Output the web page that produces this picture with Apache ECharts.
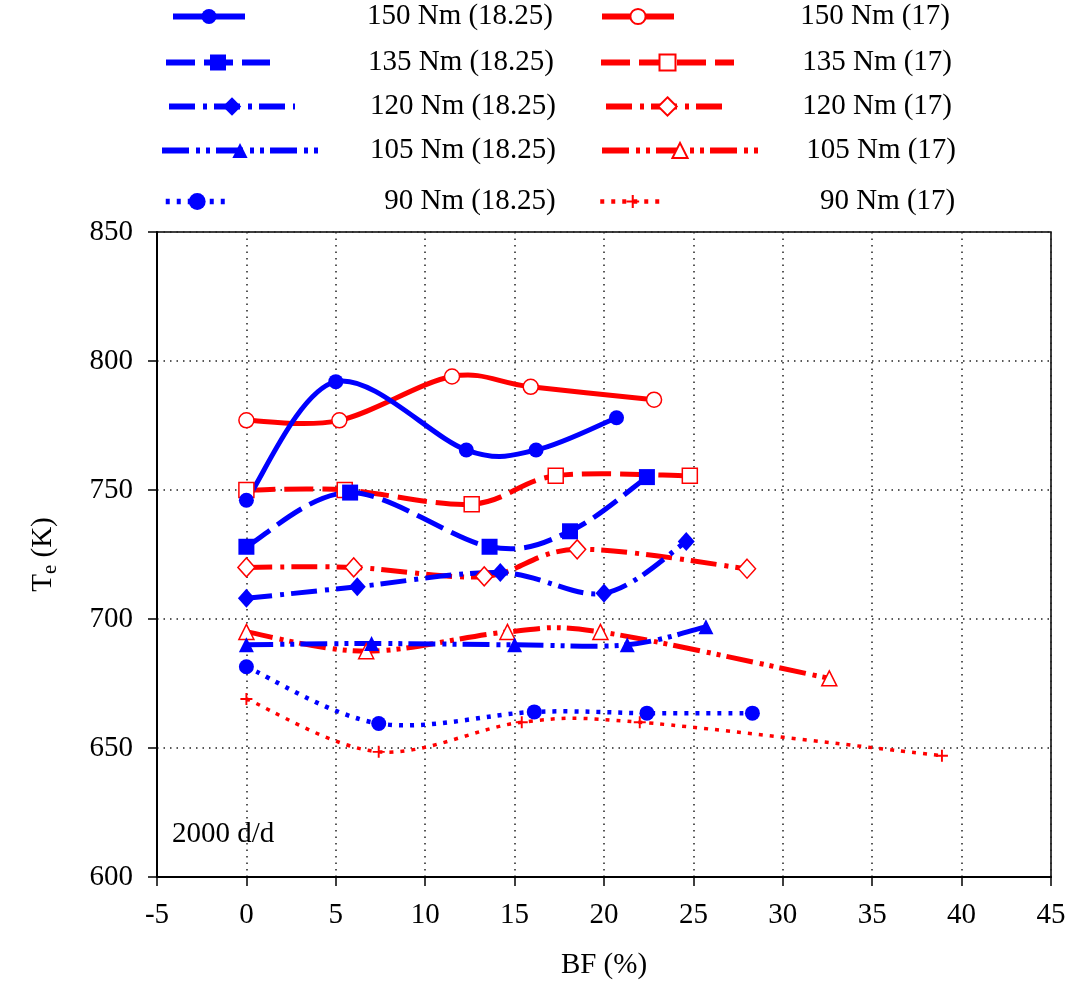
<!DOCTYPE html>
<html>
<head>
<meta charset="utf-8">
<script src="https://cdn.jsdelivr.net/npm/echarts@6/dist/echarts.min.js"></script>
<style>
html,body{margin:0;padding:0;background:#fff;}
#chart{width:1073px;height:990px;}
</style>
</head>
<body>
<div id="chart"></div>
<script>
// ---- data ----
const seriesNames = ['150 Nm (18.25)','135 Nm (18.25)','120 Nm (18.25)','105 Nm (18.25)','90 Nm (18.25)',
                     '150 Nm (17)','135 Nm (17)','120 Nm (17)','105 Nm (17)','90 Nm (17)'];
const bf150_1825 = [0, 5.0, 12.3, 16.2, 20.7];
const te150_1825 = [746, 792, 765.5, 765.5, 778];
const bf135_1825 = [0, 5.8, 13.6, 18.1, 22.4];
const te135_1825 = [728, 749, 728, 734, 755];
const bf120_1825 = [0, 6.2, 14.2, 20.0, 24.6];
const te120_1825 = [708, 712.5, 718, 710, 730];
const bf105_1825 = [0, 7.0, 15.0, 21.3, 25.7];
const te105_1825 = [690, 690.5, 690, 690, 697];
const bf90_1825  = [0, 7.4, 16.1, 22.4, 28.3];
const te90_1825  = [681.5, 659.5, 664, 663.5, 663.5];
const bf150_17 = [0, 5.2, 11.5, 15.9, 22.8];
const te150_17 = [777, 777, 794, 790, 785];
const bf135_17 = [0, 5.5, 12.6, 17.3, 24.8];
const te135_17 = [750, 750, 744.5, 755.5, 755.5];
const bf120_17 = [0, 6.0, 13.3, 18.5, 28.0];
const te120_17 = [720, 720, 716.5, 727, 719.5];
const bf105_17 = [0, 6.7, 14.6, 19.8, 32.6];
const te105_17 = [695, 687.5, 695, 695, 677];
const bf90_17  = [0, 7.4, 15.4, 22.0, 38.9];
const te90_17  = [669, 648.5, 660, 660, 647];
const annotation = '2000 d/d';

// ---- styling ----
const FONT = 'Liberation Serif';
const FS = 29;
const BLUE = '#0000ff', RED = '#ff0000';
const PLUS = 'path://M4.2,0h1.6v4.2h4.2v1.6h-4.2v4.2h-1.6v-4.2h-4.2v-1.6h4.2z';
const DASH135 = [29, 9], DASH120 = [26, 8, 4, 7], DASH105 = [27, 7, 4, 6, 4, 6], DOT = [4, 7];

function pairs(xs, ys){ return xs.map((x,i)=>[x, ys[i]]); }

// smooth curve (Catmull-Rom -> Bezier) through the library's own coordinate mapping
function curveSeries(name, data, color, dash, width){
  return {
    name: name + ' curve', type: 'custom', z: 2, silent: true,
    data: data, encode: {x: 0, y: 1},
    renderItem: function(params, api){
      if (params.dataIndex !== 0) return null;
      const p = data.map(d => api.coord(d));
      const n = p.length;
      let path = 'M' + p[0][0] + ',' + p[0][1];
      for (let i = 0; i < n - 1; i++) {
        const p0 = p[i - 1] || p[i], p1 = p[i], p2 = p[i + 1], p3 = p[i + 2] || p[i + 1];
        const c1x = p1[0] + (p2[0] - p0[0]) / 6, c1y = p1[1] + (p2[1] - p0[1]) / 6;
        const c2x = p2[0] - (p3[0] - p1[0]) / 6, c2y = p2[1] - (p3[1] - p1[1]) / 6;
        path += 'C' + c1x + ',' + c1y + ',' + c2x + ',' + c2y + ',' + p2[0] + ',' + p2[1];
      }
      return {
        type: 'path', shape: {pathData: path},
        style: {fill: 'none', stroke: color, lineWidth: width,
                lineDash: dash === 'solid' ? null : dash}
      };
    }
  };
}

const specs = [
  // name, xs, ys, color, dash, width, symbol, size, open
  [seriesNames[5], bf150_17, te150_17, RED, 'solid', 5, 'circle', 15, true],
  [seriesNames[6], bf135_17, te135_17, RED, DASH135, 5, 'rect', 15, true],
  [seriesNames[7], bf120_17, te120_17, RED, DASH120, 5, 'diamond', [17,19], true],
  [seriesNames[8], bf105_17, te105_17, RED, DASH105, 5, 'triangle', [15,15], true],
  [seriesNames[9], bf90_17, te90_17, RED, [4,7], 3.5, PLUS, 12, false],
  [seriesNames[0], bf150_1825, te150_1825, BLUE, 'solid', 5, 'circle', 15, false],
  [seriesNames[1], bf135_1825, te135_1825, BLUE, DASH135, 5, 'rect', 16, false],
  [seriesNames[2], bf120_1825, te120_1825, BLUE, DASH120, 5, 'diamond', [17,19], false],
  [seriesNames[3], bf105_1825, te105_1825, BLUE, DASH105, 5, 'triangle', [15,15], false],
  [seriesNames[4], bf90_1825, te90_1825, BLUE, DOT, 4.5, 'circle', 15, false]
];

const series = [];
const styleByName = {};
specs.forEach(([name, xs, ys, color, dash, width, symbol, size, open]) => {
  const data = pairs(xs, ys);
  styleByName[name] = {color: color, dash: dash, width: width};
  series.push(curveSeries(name, data, color, dash, width));
  series.push({
    name: name, type: 'line', z: 3,
    data: data,
    symbol: symbol, symbolSize: size, showSymbol: true,
    lineStyle: {color: color, width: 0, opacity: 0, type: dash},
    itemStyle: open ? {color: '#ffffff', borderColor: color, borderWidth: 1.5}
                    : {color: color, borderColor: color, borderWidth: 0},
    emphasis: {disabled: true}
  });
});

// legend layout: one legend per entry [name, left, centerY, iconWidth, iconHeight, textRight]
const legendLayout = [
  [seriesNames[0], 170, 18, 72, 19, 550],
  [seriesNames[1], 163, 64, 104, 20, 551],
  [seriesNames[2], 166, 108, 126, 23, 553],
  [seriesNames[3], 159, 152, 156, 19, 553],
  [seriesNames[4], 163, 203, 63, 21, 553],
  [seriesNames[5], 599, 18, 72, 19, 947],
  [seriesNames[6], 598, 64, 133, 20, 949],
  [seriesNames[7], 603, 108, 123, 23, 949],
  [seriesNames[8], 599, 152, 156, 19, 953],
  [seriesNames[9], 598, 203, 65, 16, 953]
];
const legends = legendLayout.map(([nm, left, cy, w, h, right]) => {
  const st = styleByName[nm];
  return {
    data: [nm], left: left, top: cy - 16, padding: 0,
    itemWidth: w, itemHeight: h, itemGap: 0,
    selectedMode: false,
    lineStyle: {color: st.color, width: st.width + 1, type: st.dash, opacity: 1},
    formatter: '{t|{name}}',
    textStyle: {rich: {t: {width: right - (left + w + 5), align: 'right',
      fontFamily: FONT, fontSize: FS, lineHeight: 32, color: '#000'}}}
  };
});

const gridLine = {show: true, lineStyle: {color: '#222', width: 1.5, type: [1.5, 5]}};

const option = {
  animation: false,
  backgroundColor: '#ffffff',
  legend: legends,
  grid: {left: 157, right: 22, top: 232, bottom: 113, show: true,
         borderColor: '#000', borderWidth: 1.5, backgroundColor: 'transparent'},
  xAxis: {
    type: 'value', min: -5, max: 45, interval: 5,
    name: 'BF (%)', nameLocation: 'middle', nameGap: 74,
    nameTextStyle: {fontFamily: FONT, fontSize: FS, color: '#000'},
    axisLine: {onZero: false, lineStyle: {color: '#000', width: 2}},
    axisTick: {show: true, inside: false, length: 9, lineStyle: {color: '#000', width: 1.5}},
    axisLabel: {fontFamily: FONT, fontSize: FS, color: '#000', margin: 24},
    splitLine: gridLine
  },
  yAxis: {
    type: 'value', min: 600, max: 850, interval: 50,
    name: 'T{sub|e} (K)', nameLocation: 'middle', nameGap: 96, nameRotate: 90,
    nameTextStyle: {fontFamily: FONT, fontSize: FS, color: '#000',
      rich: {sub: {fontFamily: FONT, fontSize: 21, color: '#000', padding: [14,0,0,0]}}},
    axisLine: {onZero: false, lineStyle: {color: '#000', width: 2}},
    axisTick: {show: true, inside: false, length: 9, lineStyle: {color: '#000', width: 1.5}},
    axisLabel: {fontFamily: FONT, fontSize: FS, color: '#000', margin: 24},
    splitLine: gridLine
  },
  graphic: [{
    type: 'text', left: 172, top: 820, z: 100,
    style: {text: annotation, fontFamily: FONT, fontSize: FS, fill: '#000'}
  }],
  series: series
};

const chart = echarts.init(document.getElementById('chart'), null, {renderer: 'canvas'});
chart.setOption(option);
</script>
</body>
</html>
